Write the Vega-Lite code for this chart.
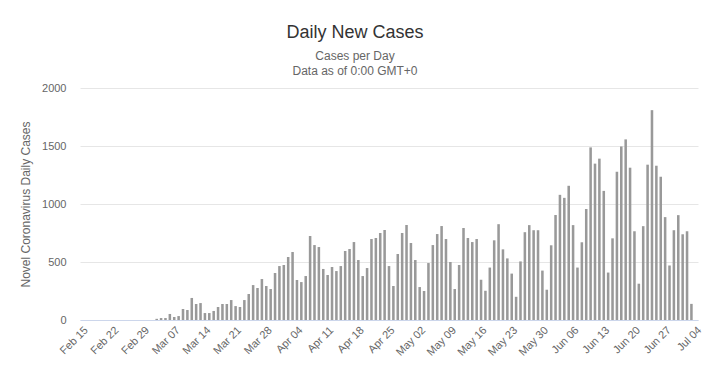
{
  "$schema": "https://vega.github.io/schema/vega-lite/v6.json",
  "autosize": {"type": "none"},
  "width": 618,
  "height": 232,
  "padding": {"left": 80, "top": 88, "right": 12, "bottom": 57},
  "background": "#ffffff",
  "config": {"view": {"stroke": null}, "font": "Liberation Sans"},
  "title": {
    "text": "Daily New Cases",
    "subtitle": ["Cases per Day", "Data as of 0:00 GMT+0"],
    "anchor": "middle",
    "dx": -34,
    "font": "Liberation Sans",
    "fontSize": 18,
    "fontWeight": "normal",
    "color": "#333333",
    "subtitleFont": "Liberation Sans",
    "subtitleFontSize": 12,
    "subtitleColor": "#666666",
    "subtitleLineHeight": 15,
    "subtitlePadding": 9,
    "offset": 5
  },
  "data": {"values": [
    {"date": "Feb 15", "cases": 0}, {"date": "Feb 16", "cases": 0}, {"date": "Feb 17", "cases": 0}, {"date": "Feb 18", "cases": 0},
    {"date": "Feb 19", "cases": 0}, {"date": "Feb 20", "cases": 0}, {"date": "Feb 21", "cases": 0}, {"date": "Feb 22", "cases": 0},
    {"date": "Feb 23", "cases": 0}, {"date": "Feb 24", "cases": 0}, {"date": "Feb 25", "cases": 0}, {"date": "Feb 26", "cases": 0},
    {"date": "Feb 27", "cases": 0}, {"date": "Feb 28", "cases": 0}, {"date": "Feb 29", "cases": 0}, {"date": "Mar 01", "cases": 0},
    {"date": "Mar 02", "cases": 0}, {"date": "Mar 03", "cases": 10}, {"date": "Mar 04", "cases": 17}, {"date": "Mar 05", "cases": 17},
    {"date": "Mar 06", "cases": 52}, {"date": "Mar 07", "cases": 26}, {"date": "Mar 08", "cases": 34}, {"date": "Mar 09", "cases": 95},
    {"date": "Mar 10", "cases": 86}, {"date": "Mar 11", "cases": 190}, {"date": "Mar 12", "cases": 138}, {"date": "Mar 13", "cases": 146},
    {"date": "Mar 14", "cases": 60}, {"date": "Mar 15", "cases": 60}, {"date": "Mar 16", "cases": 78}, {"date": "Mar 17", "cases": 112},
    {"date": "Mar 18", "cases": 138}, {"date": "Mar 19", "cases": 138}, {"date": "Mar 20", "cases": 172}, {"date": "Mar 21", "cases": 120},
    {"date": "Mar 22", "cases": 112}, {"date": "Mar 23", "cases": 172}, {"date": "Mar 24", "cases": 224}, {"date": "Mar 25", "cases": 301},
    {"date": "Mar 26", "cases": 276}, {"date": "Mar 27", "cases": 353}, {"date": "Mar 28", "cases": 293}, {"date": "Mar 29", "cases": 267},
    {"date": "Mar 30", "cases": 405}, {"date": "Mar 31", "cases": 465}, {"date": "Apr 01", "cases": 474}, {"date": "Apr 02", "cases": 543},
    {"date": "Apr 03", "cases": 586}, {"date": "Apr 04", "cases": 345}, {"date": "Apr 05", "cases": 327}, {"date": "Apr 06", "cases": 379},
    {"date": "Apr 07", "cases": 724}, {"date": "Apr 08", "cases": 646}, {"date": "Apr 09", "cases": 629}, {"date": "Apr 10", "cases": 440},
    {"date": "Apr 11", "cases": 388}, {"date": "Apr 12", "cases": 457}, {"date": "Apr 13", "cases": 422}, {"date": "Apr 14", "cases": 465},
    {"date": "Apr 15", "cases": 595}, {"date": "Apr 16", "cases": 612}, {"date": "Apr 17", "cases": 672}, {"date": "Apr 18", "cases": 517},
    {"date": "Apr 19", "cases": 379}, {"date": "Apr 20", "cases": 448}, {"date": "Apr 21", "cases": 698}, {"date": "Apr 22", "cases": 707},
    {"date": "Apr 23", "cases": 750}, {"date": "Apr 24", "cases": 776}, {"date": "Apr 25", "cases": 465}, {"date": "Apr 26", "cases": 293},
    {"date": "Apr 27", "cases": 569}, {"date": "Apr 28", "cases": 750}, {"date": "Apr 29", "cases": 819}, {"date": "Apr 30", "cases": 664},
    {"date": "May 01", "cases": 517}, {"date": "May 02", "cases": 284}, {"date": "May 03", "cases": 250}, {"date": "May 04", "cases": 491},
    {"date": "May 05", "cases": 646}, {"date": "May 06", "cases": 741}, {"date": "May 07", "cases": 810}, {"date": "May 08", "cases": 698},
    {"date": "May 09", "cases": 500}, {"date": "May 10", "cases": 267}, {"date": "May 11", "cases": 474}, {"date": "May 12", "cases": 793},
    {"date": "May 13", "cases": 707}, {"date": "May 14", "cases": 672}, {"date": "May 15", "cases": 698}, {"date": "May 16", "cases": 347},
    {"date": "May 17", "cases": 252}, {"date": "May 18", "cases": 452}, {"date": "May 19", "cases": 687}, {"date": "May 20", "cases": 826},
    {"date": "May 21", "cases": 609}, {"date": "May 22", "cases": 531}, {"date": "May 23", "cases": 400}, {"date": "May 24", "cases": 200},
    {"date": "May 25", "cases": 505}, {"date": "May 26", "cases": 757}, {"date": "May 27", "cases": 818}, {"date": "May 28", "cases": 774},
    {"date": "May 29", "cases": 774}, {"date": "May 30", "cases": 426}, {"date": "May 31", "cases": 261}, {"date": "Jun 01", "cases": 644},
    {"date": "Jun 02", "cases": 905}, {"date": "Jun 03", "cases": 1079}, {"date": "Jun 04", "cases": 1053}, {"date": "Jun 05", "cases": 1157},
    {"date": "Jun 06", "cases": 818}, {"date": "Jun 07", "cases": 452}, {"date": "Jun 08", "cases": 670}, {"date": "Jun 09", "cases": 957},
    {"date": "Jun 10", "cases": 1488}, {"date": "Jun 11", "cases": 1348}, {"date": "Jun 12", "cases": 1391}, {"date": "Jun 13", "cases": 1113},
    {"date": "Jun 14", "cases": 409}, {"date": "Jun 15", "cases": 704}, {"date": "Jun 16", "cases": 1278}, {"date": "Jun 17", "cases": 1496},
    {"date": "Jun 18", "cases": 1557}, {"date": "Jun 19", "cases": 1313}, {"date": "Jun 20", "cases": 765}, {"date": "Jun 21", "cases": 313},
    {"date": "Jun 22", "cases": 809}, {"date": "Jun 23", "cases": 1339}, {"date": "Jun 24", "cases": 1809}, {"date": "Jun 25", "cases": 1330},
    {"date": "Jun 26", "cases": 1235}, {"date": "Jun 27", "cases": 887}, {"date": "Jun 28", "cases": 470}, {"date": "Jun 29", "cases": 774},
    {"date": "Jun 30", "cases": 904}, {"date": "Jul 01", "cases": 739}, {"date": "Jul 02", "cases": 765}, {"date": "Jul 03", "cases": 139},
    {"date": "Jul 04", "cases": 0}
  ]},
  "mark": {"type": "bar", "color": "#999999"},
  "encoding": {
    "x": {
      "field": "date",
      "type": "ordinal",
      "sort": null,
      "scale": {"paddingInner": 0.42, "paddingOuter": 0.21},
      "axis": {
        "title": null,
        "values": ["Feb 15", "Feb 22", "Feb 29", "Mar 07", "Mar 14", "Mar 21", "Mar 28", "Apr 04", "Apr 11", "Apr 18", "Apr 25", "May 02", "May 09", "May 16", "May 23", "May 30", "Jun 06", "Jun 13", "Jun 20", "Jun 27", "Jul 04"],
        "labelAngle": -45,
        "labelFontSize": 11,
        "labelColor": "#666666",
        "labelFont": "Liberation Sans",
        "labelPadding": 4,
        "ticks": false,
        "domainColor": "#ccd6eb",
        "domainWidth": 1,
        "grid": false
      }
    },
    "y": {
      "field": "cases",
      "type": "quantitative",
      "scale": {"domain": [0, 2000], "nice": false},
      "axis": {
        "title": "Novel Coronavirus Daily Cases",
        "titleFont": "Liberation Sans",
        "titleFontSize": 12,
        "titleFontWeight": "normal",
        "titleColor": "#666666",
        "titleX": -55,
        "titleY": 116,
        "titleAngle": -90,
        "titleAlign": "center",
        "titleBaseline": "middle",
        "values": [0, 500, 1000, 1500, 2000],
        "format": "d",
        "labelFontSize": 11,
        "labelColor": "#666666",
        "labelFont": "Liberation Sans",
        "labelPadding": 14,
        "ticks": false,
        "domain": false,
        "gridColor": "#e6e6e6",
        "gridWidth": 1
      }
    }
  }
}
